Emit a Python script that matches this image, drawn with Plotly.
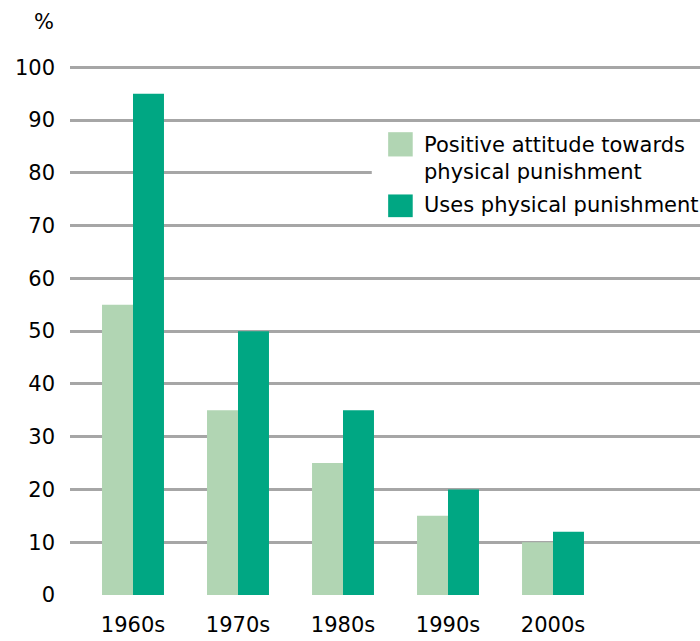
import plotly.graph_objects as go

categories = ["1960s", "1970s", "1980s", "1990s", "2000s"]
positive_attitude = [55, 35, 25, 15, 10]
uses_punishment = [95, 50, 35, 20, 12]
y_ticks = [0, 10, 20, 30, 40, 50, 60, 70, 80, 90, 100]
legend_lines = ["Positive attitude towards", "physical punishment", "Uses physical punishment"]

LIGHT = "#b1d5b3"
TEAL = "#00a783"
GRID = "#a6a6a6"
FONT = "DejaVu Sans"
TXT = "#000000"
FS = 21

fig = go.Figure()
fig.add_trace(go.Bar(x=categories, y=positive_attitude, marker_color=LIGHT,
                     marker_line_width=0, name=legend_lines[0] + " " + legend_lines[1]))
fig.add_trace(go.Bar(x=categories, y=uses_punishment, marker_color=TEAL,
                     marker_line_width=0, name=legend_lines[2]))

# manual legend
shapes = [
    dict(type="rect", xref="paper", yref="y", x0=0.479, x1=1.0, y0=71.0, y1=89.4,
         fillcolor="white", line_width=0, layer="above"),
    dict(type="rect", xref="paper", yref="y", x0=0.505, x1=0.544, y0=83.1, y1=87.7,
         fillcolor=LIGHT, line_width=0, layer="above"),
    dict(type="rect", xref="paper", yref="y", x0=0.505, x1=0.544, y0=71.6, y1=75.9,
         fillcolor=TEAL, line_width=0, layer="above"),
]
tf = dict(size=FS, color=TXT, family=FONT)
annotations = [
    dict(text=legend_lines[0], xref="paper", yref="y", x=0.559, y=85.2,
         xanchor="left", yanchor="middle", showarrow=False, font=tf),
    dict(text=legend_lines[1], xref="paper", yref="y", x=0.559, y=80.1,
         xanchor="left", yanchor="middle", showarrow=False, font=tf),
    dict(text=legend_lines[2], xref="paper", yref="y", x=0.559, y=73.9,
         xanchor="left", yanchor="middle", showarrow=False, font=tf),
    dict(text="%", xref="paper", yref="paper", x=-0.0405, y=1.0744,
         xanchor="center", yanchor="middle", showarrow=False, font=tf),
]

fig.update_layout(
    width=700, height=641,
    margin=dict(l=70, r=0, t=62, b=46),
    paper_bgcolor="white", plot_bgcolor="white",
    barmode="group", bargap=0.41, bargroupgap=0,
    showlegend=False,
    font=tf,
    shapes=shapes, annotations=annotations,
    xaxis=dict(type="category", range=[-0.6, 5.4], showgrid=False, zeroline=False,
               showline=False, ticks="", ticklabelstandoff=15, tickfont=tf),
    yaxis=dict(range=[0, 101], tickvals=y_ticks, showgrid=True, gridcolor=GRID,
               gridwidth=3, zeroline=False, showline=False, ticks="",
               ticklabelstandoff=14, tickfont=tf),
)

fig.write_html("out.html", config={"displayModeBar": False},
               post_script="document.body.style.margin='0';document.body.style.overflow='hidden';")
